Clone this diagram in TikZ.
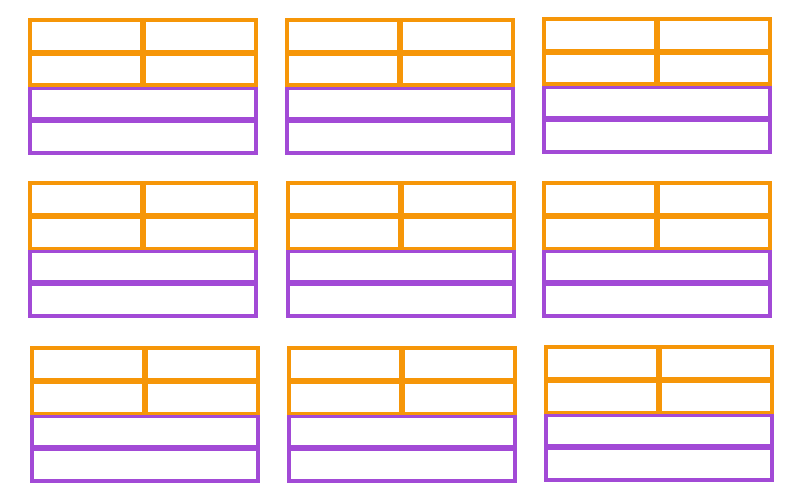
\documentclass[tikz,border=0pt]{standalone}
\usepackage{xcolor}
\usepackage{tikz}
\usetikzlibrary{positioning}

\definecolor{orng}{RGB}{246,150,8}
\definecolor{purp}{RGB}{162,74,214}

\begin{document}
\begin{tikzpicture}[
  x=1pt, y=-1pt,
  cell/.style={draw,line width=3.8pt,inner sep=0pt,minimum height=31.6pt,anchor=north west},
  half/.style={cell,draw=orng,minimum width=112pt},
  full/.style={cell,draw=purp,minimum width=226.2pt}
]
\useasboundingbox (0,0) rectangle (800,500);

% one block per grid slot: two purple rows under two orange rows split in two
\foreach \bx/\by [count=\blk] in {28/18, 285/18, 542/17,
                                  28/181, 286/181, 542/181,
                                  30/346, 287/346, 544/345}{
  \node[full] (b\blk-p1) at (\bx,\by+67.75) {};
  \node[full,below=-1.5pt of b\blk-p1] (b\blk-p2) {};
  \node[half] (b\blk-tl) at (\bx,\by) {};
  \node[half,right=-1.5pt of b\blk-tl] (b\blk-tr) {};
  \node[half,below=-1.5pt of b\blk-tl] (b\blk-ml) {};
  \node[half,below=-1.5pt of b\blk-tr] (b\blk-mr) {};
}
\end{tikzpicture}
\end{document}
